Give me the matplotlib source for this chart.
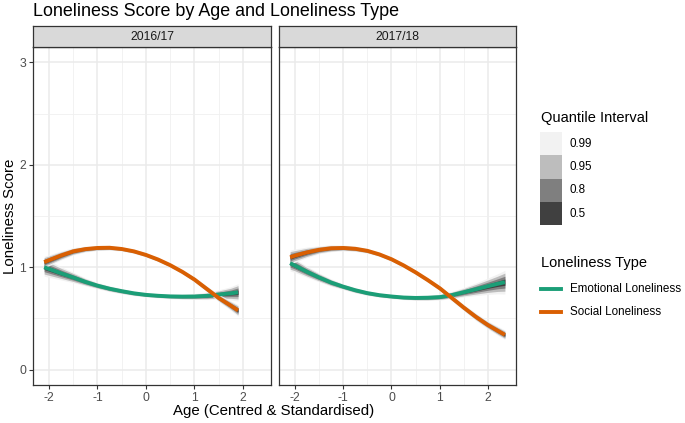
import numpy as np
import matplotlib.pyplot as plt
from matplotlib.patches import Rectangle
from matplotlib.lines import Line2D

plt.rcParams['font.family'] = ['Liberation Sans', 'DejaVu Sans']
plt.rcParams['axes.unicode_minus'] = False

# data
waves = ['2016/17', '2017/18']
types = ['Emotional Loneliness', 'Social Loneliness']
type_colours = ['#1B9E77', '#D95F02']

age_1617 = [-2.1, -1.75, -1.5, -1.25, -1.0, -0.75, -0.5, -0.25, 0.0,
            0.25, 0.5, 0.75, 1.0, 1.25, 1.5, 1.75, 1.9]
emo_1617 = [1.0, 0.94, 0.90, 0.857, 0.82, 0.79, 0.766, 0.745, 0.73,
            0.721, 0.715, 0.713, 0.714, 0.72, 0.733, 0.745, 0.755]
soc_1617 = [1.05, 1.115, 1.155, 1.177, 1.188, 1.19, 1.178, 1.155, 1.12,
            1.075, 1.02, 0.955, 0.88, 0.79, 0.70, 0.625, 0.578]
emo_sd_1617 = [0.034, 0.025, 0.02, 0.015, 0.012, 0.011, 0.01, 0.009, 0.008,
               0.008, 0.009, 0.01, 0.011, 0.014, 0.018, 0.025, 0.033]
soc_sd_1617 = [0.022, 0.017, 0.014, 0.011, 0.01, 0.009, 0.008, 0.008, 0.008,
               0.008, 0.008, 0.008, 0.01, 0.011, 0.014, 0.018, 0.022]

age_1718 = [-2.1, -2.0, -1.75, -1.5, -1.25, -1.0, -0.75, -0.5, -0.25, 0.0,
            0.25, 0.5, 0.75, 1.0, 1.25, 1.5, 1.75, 2.0, 2.2, 2.35]
emo_1718 = [1.04, 1.016, 0.955, 0.90, 0.85, 0.81, 0.775, 0.747, 0.727, 0.714,
            0.704, 0.70, 0.702, 0.708, 0.728, 0.756, 0.785, 0.815, 0.838, 0.854]
soc_1718 = [1.097, 1.113, 1.145, 1.17, 1.185, 1.188, 1.18, 1.16, 1.125, 1.078,
            1.018, 0.95, 0.875, 0.795, 0.70, 0.605, 0.515, 0.435, 0.38, 0.34]
emo_sd_1718 = [0.03, 0.026, 0.021, 0.017, 0.014, 0.011, 0.01, 0.009, 0.008, 0.008,
               0.008, 0.009, 0.01, 0.011, 0.014, 0.018, 0.024, 0.031, 0.038, 0.045]
soc_sd_1718 = [0.028, 0.025, 0.02, 0.015, 0.013, 0.011, 0.01, 0.009, 0.008, 0.008,
               0.008, 0.008, 0.008, 0.01, 0.011, 0.012, 0.014, 0.015, 0.017, 0.018]

levels = [0.99, 0.95, 0.8, 0.5]
level_z = [2.576, 1.960, 1.282, 0.674]
level_fill = ['#F2F2F2', '#BDBDBD', '#7F7F7F', '#404040']

panels = [
    (age_1617, [emo_1617, soc_1617], [emo_sd_1617, soc_sd_1617]),
    (age_1718, [emo_1718, soc_1718], [emo_sd_1718, soc_sd_1718]),
]

fig = plt.figure(figsize=(6.85, 4.23), dpi=100)
W, H = 685, 423

def fx(px):
    return px / W

def fy(py):
    return 1 - py / H

panel_x = [(33, 271), (279, 516)]
top, bottom = 47, 385
strip_top = 26

tick_col = '#4D4D4D'
for i, (xl, xr) in enumerate(panel_x):
    ax = fig.add_axes([fx(xl), fy(bottom), fx(xr - xl), fy(top) - fy(bottom)])
    age, ys, sds = panels[i]
    age = np.array(age)
    for y, sd in zip(ys, sds):
        y = np.array(y)
        sd = np.array(sd)
        for z, col in zip(level_z, level_fill):
            ax.fill_between(age, y - z * sd, y + z * sd, color=col, lw=0, zorder=2)
    for y, col in zip(ys, type_colours):
        ax.plot(age, y, color=col, lw=2.8, solid_capstyle='butt',
                solid_joinstyle='round', zorder=3)

    ax.set_xlim(-2.33, 2.58)
    ax.set_ylim(-0.15, 3.15)
    ax.set_xticks([-2, -1, 0, 1, 2])
    ax.set_xticks([-1.5, -0.5, 0.5, 1.5], minor=True)
    ax.set_yticks([0, 1, 2, 3])
    ax.set_yticks([0.5, 1.5, 2.5], minor=True)
    ax.grid(True, which='major', color='#EBEBEB', lw=1.1, zorder=0)
    ax.grid(True, which='minor', color='#F0F0F0', lw=0.6, zorder=0)
    ax.set_axisbelow(True)
    ax.tick_params(which='major', length=3, width=0.8, color='#333333',
                   labelsize=8.8, labelcolor=tick_col, pad=2)
    ax.tick_params(which='minor', length=0)
    if i > 0:
        ax.tick_params(axis='y', left=False, labelleft=False)
    for s in ax.spines.values():
        s.set_color('#333333')
        s.set_linewidth(0.9)

    # strip
    sax = fig.add_axes([fx(xl), fy(top), fx(xr - xl), fy(strip_top) - fy(top)])
    sax.set_facecolor('#D9D9D9')
    sax.set_xticks([])
    sax.set_yticks([])
    for s in sax.spines.values():
        s.set_color('#333333')
        s.set_linewidth(0.9)
    sax.text(0.5, 0.5, waves[i], ha='center', va='center', fontsize=8.8,
             color='#1A1A1A', transform=sax.transAxes)

fig.text(fx(33), fy(12), 'Loneliness Score by Age and Loneliness Type',
         fontsize=12.9, ha='left', va='center', color='black')
fig.text(fx(274), fy(411), 'Age (Centred & Standardised)', fontsize=10.8,
         ha='center', va='center')
fig.text(fx(10), fy(216), 'Loneliness Score', fontsize=10.8, rotation=90,
         ha='center', va='center')

# legends
fig.text(fx(541), fy(118), 'Quantile Interval', fontsize=10.5, ha='left', va='center')
key_top = 132
for j, (lev, col) in enumerate(zip(levels, level_fill)):
    y0 = key_top + j * 23.3
    fig.patches.append(Rectangle((fx(540), fy(y0 + 23.3)), fx(22), fy(y0) - fy(y0 + 23.3),
                                 transform=fig.transFigure, facecolor=col,
                                 edgecolor='none'))
    fig.text(fx(570), fy(y0 + 11.6), str(lev), fontsize=8.4, ha='left', va='center')

fig.text(fx(541), fy(263), 'Loneliness Type', fontsize=10.5, ha='left', va='center')
for j, (lab, col) in enumerate(zip(types, type_colours)):
    yy = 289 + j * 23.3
    fig.lines.append(Line2D([fx(541), fx(561)], [fy(yy), fy(yy)], color=col, lw=2.8,
                            transform=fig.transFigure))
    fig.text(fx(570), fy(yy), lab, fontsize=8.4, ha='left', va='center')

fig.savefig('out.png', dpi=100)
